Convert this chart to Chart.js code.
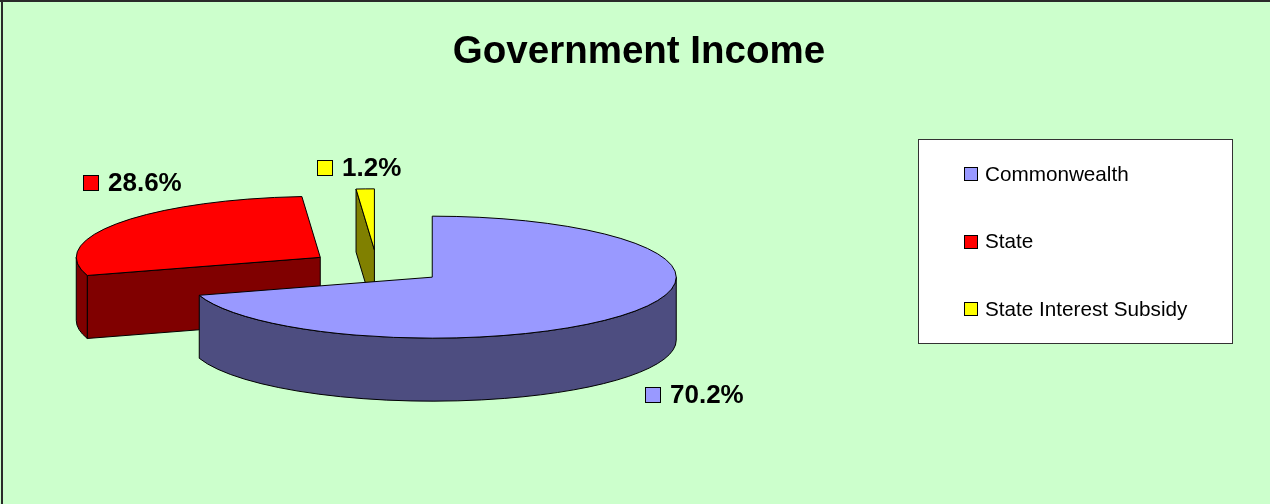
<!DOCTYPE html>
<html><head><meta charset="utf-8">
<script src="https://cdn.jsdelivr.net/npm/chart.js@4"></script>
<style>html,body{margin:0;padding:0;background:#CCFFCC;overflow:hidden}#wrap{width:1270px;height:504px;position:relative}canvas{display:block}</style>
</head><body><div id="wrap"><canvas id="c" width="1270" height="504"></canvas></div>
<script>
const titleText = 'Government Income';
const categories = ['Commonwealth', 'State', 'State Interest Subsidy'];
const values = [70.2, 28.6, 1.2];
const topColors = ['#9999FF', '#FF0000', '#FFFF00'];
const sideColors = ['#4D4D80', '#800000', '#808000'];

const FONT = '"Liberation Sans", Arial, sans-serif';

const pie3d = {
  id: 'pie3d',
  beforeDraw(chart) {
    const ctx = chart.ctx;
    ctx.save();
    ctx.fillStyle = '#CCFFCC';
    ctx.fillRect(0, 0, chart.width, chart.height);
    ctx.restore();
  },
  beforeDatasetsDraw(chart, args, opts) {
    const ctx = chart.ctx;
    const meta = chart.getDatasetMeta(0);
    const k = opts.tilt, E = opts.explode, D = opts.depth;
    const items = meta.data.map((el, i) => {
      const p = el.getProps(['x', 'y', 'startAngle', 'endAngle', 'outerRadius'], true);
      const mid = (p.startAngle + p.endAngle) / 2;
      return { el, i, p, mid, ox: p.x + Math.cos(mid) * E, oy: p.y + Math.sin(mid) * E * k, R: p.outerRadius, ry: p.outerRadius * k };
    });
    chart.$pie3d = items;
    const order = items.slice().sort((a, b) => a.oy - b.oy);
    ctx.save();
    ctx.lineWidth = 1;
    ctx.strokeStyle = '#000';
    ctx.lineJoin = 'round';
    for (const it of order) {
      const { ox, oy, R, ry } = it;
      const s = it.p.startAngle, e = it.p.endAngle;
      const side = sideColors[it.i];
      const P = a => [ox + R * Math.cos(a), oy + ry * Math.sin(a)];
      const face = a => {
        const q = P(a);
        ctx.beginPath();
        ctx.moveTo(ox, oy);
        ctx.lineTo(q[0], q[1]);
        ctx.lineTo(q[0], q[1] + D);
        ctx.lineTo(ox, oy + D);
        ctx.closePath();
        ctx.fillStyle = side;
        ctx.fill();
        ctx.stroke();
      };
      if (Math.cos(s) < -1e-6) face(s);
      if (Math.cos(e) > 1e-6) face(e);
      for (const base of [-2 * Math.PI, 0, 2 * Math.PI]) {
        const a1 = Math.max(s, base), a2 = Math.min(e, base + Math.PI);
        if (a2 - a1 > 1e-6) {
          const q1 = P(a1), q2 = P(a2);
          ctx.beginPath();
          ctx.moveTo(q1[0], q1[1]);
          ctx.ellipse(ox, oy, R, ry, 0, a1, a2, false);
          ctx.lineTo(q2[0], q2[1] + D);
          ctx.ellipse(ox, oy + D, R, ry, 0, a2, a1, true);
          ctx.closePath();
          ctx.fillStyle = side;
          ctx.fill();
          ctx.stroke();
        }
      }
      ctx.save();
      ctx.translate(ox, oy);
      ctx.scale(1, k);
      ctx.translate(-it.p.x, -it.p.y);
      it.el.draw(ctx);
      ctx.restore();
      const q = P(s);
      ctx.beginPath();
      ctx.moveTo(ox, oy);
      ctx.lineTo(q[0], q[1]);
      ctx.ellipse(ox, oy, R, ry, 0, s, e, false);
      ctx.closePath();
      ctx.stroke();
    }
    ctx.restore();
    return false;
  },
  afterDraw(chart, args, opts) {
    const ctx = chart.ctx;
    const items = chart.$pie3d || [];
    const D = opts.depth;
    const total = values.reduce((a, b) => a + b, 0);
    ctx.save();
    // data labels
    ctx.font = 'bold 26px ' + FONT;
    ctx.textBaseline = 'alphabetic';
    ctx.textAlign = 'left';
    for (const it of items) {
      const ax = it.ox + it.R * Math.cos(it.mid);
      let ay = it.oy + it.ry * Math.sin(it.mid);
      if (Math.sin(it.mid) > 0) ay += D;
      const off = opts.labelOffsets[it.i];
      const lx = Math.round(ax + off[0]), ly = Math.round(ay + off[1]);
      ctx.fillStyle = topColors[it.i];
      ctx.fillRect(lx + 0.5, ly + 0.5, 15, 15);
      ctx.strokeStyle = '#000';
      ctx.lineWidth = 1;
      ctx.strokeRect(lx + 0.5, ly + 0.5, 15, 15);
      ctx.fillStyle = '#000';
      const pct = (values[it.i] / total * 100).toFixed(1) + '%';
      ctx.fillText(pct, lx + 25, ly + 16);
    }
    // title
    ctx.font = 'bold 38.5px ' + FONT;
    ctx.textAlign = 'center';
    ctx.fillStyle = '#000';
    ctx.fillText(titleText, 639, 63);
    // legend
    ctx.fillStyle = '#FFFFFF';
    ctx.fillRect(918.5, 139.5, 314, 204);
    ctx.strokeStyle = '#333333';
    ctx.lineWidth = 1;
    ctx.strokeRect(918.5, 139.5, 314, 204);
    ctx.font = '20.7px ' + FONT;
    ctx.textAlign = 'left';
    ctx.textBaseline = 'middle';
    categories.forEach((c, i) => {
      const y = 174 + i * 67.5;
      ctx.fillStyle = topColors[i];
      ctx.fillRect(964.5, Math.round(y - 7) + 0.5, 13, 13);
      ctx.strokeStyle = '#000';
      ctx.strokeRect(964.5, Math.round(y - 7) + 0.5, 13, 13);
      ctx.fillStyle = '#000';
      ctx.fillText(c, 985, y + 1);
    });
    // outer frame (top and left edges)
    ctx.fillStyle = '#2a2a2a';
    ctx.fillRect(0, 0, chart.width, 2);
    ctx.fillRect(1, 0, 2, chart.height);
    ctx.restore();
  }
};

new Chart(document.getElementById('c'), {
  type: 'pie',
  data: {
    labels: categories,
    datasets: [{ data: values, backgroundColor: topColors, borderWidth: 0 }]
  },
  options: {
    responsive: false,
    animation: false,
    events: [],
    radius: 244,
    layout: { padding: { left: 0, right: 516, top: 30, bottom: 0 } },
    plugins: {
      legend: { display: false },
      title: { display: false },
      tooltip: { enabled: false },
      pie3d: {
        tilt: 0.25,
        explode: 68.6,
        depth: 63,
        labelOffsets: [[16, 11], [-35, -48], [-48, -29]]
      }
    }
  },
  plugins: [pie3d]
});
</script>
</body></html>
